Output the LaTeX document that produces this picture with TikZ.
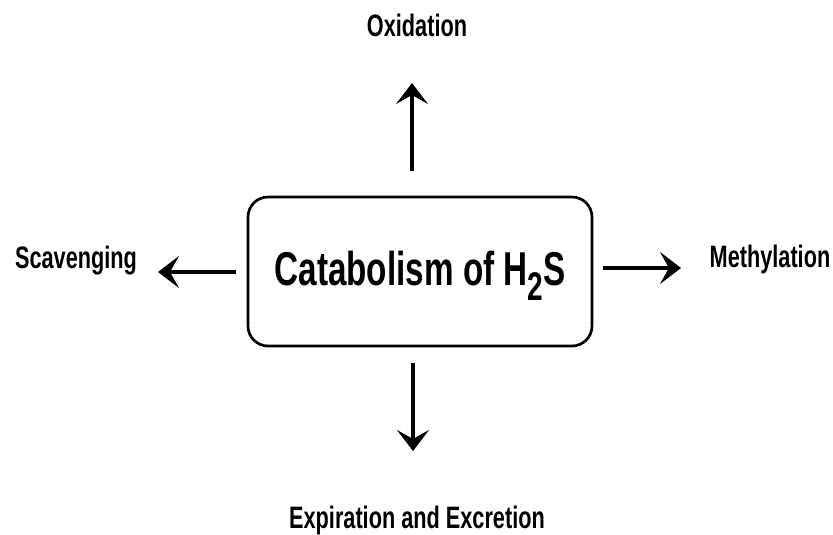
\documentclass[tikz,border=0pt]{standalone}
\usepackage{fontspec}
\newfontfamily\narrowfont[FakeStretch=0.7]{Liberation Sans}
\usetikzlibrary{positioning}
\usetikzlibrary{arrows.meta}
\newcommand{\lowtwo}{\raisebox{-15pt}{\fontsize{40}{40}\selectfont 2}}

\begin{document}
\begin{tikzpicture}[x=1pt, y=1pt,
    box/.style={draw, line width=2.7pt, rounded corners=20pt, minimum width=344pt, minimum height=149pt},
    title/.style={anchor=base, inner sep=0pt, font=\narrowfont\bfseries\fontsize{47.5}{50}\selectfont},
    lbl/.style={anchor=base, inner sep=0pt, font=\narrowfont\bfseries\fontsize{31}{34}\selectfont},
    arr/.style={line width=3.8pt, -{Stealth[length=21pt, width=32pt, inset=9pt]}}]
    \useasboundingbox (0,0) rectangle (833,-535);
    % central box
    \node[box] (box) at (420,-271.5) {};
    \node[title] (name) at (420,-285) {Catabolism of H\lowtwo S};
    % the four routes
    \node[lbl] (ox) at (417,-37) {Oxidation};
    \node[lbl] (scav) at (76,-268) {Scavenging};
    \node[lbl] (meth) at (770,-267) {Methylation};
    \node[lbl] (expi) at (417,-528) {Expiration and Excretion};
    \coordinate (tipN) at (412,-83);
    \coordinate (tipS) at (413,-451);
    \coordinate (tipW) at (158,-272);
    \coordinate (tipE) at (681,-268);
    \draw[arr, shorten <=25pt] (box.north -| tipN) -- (tipN);
    \draw[arr, shorten <=16pt] (box.south -| tipS) -- (tipS);
    \draw[arr, shorten <=11pt] (box.west |- tipW) -- (tipW);
    \draw[arr, shorten <=10pt] (box.east |- tipE) -- (tipE);
\end{tikzpicture}
\end{document}
